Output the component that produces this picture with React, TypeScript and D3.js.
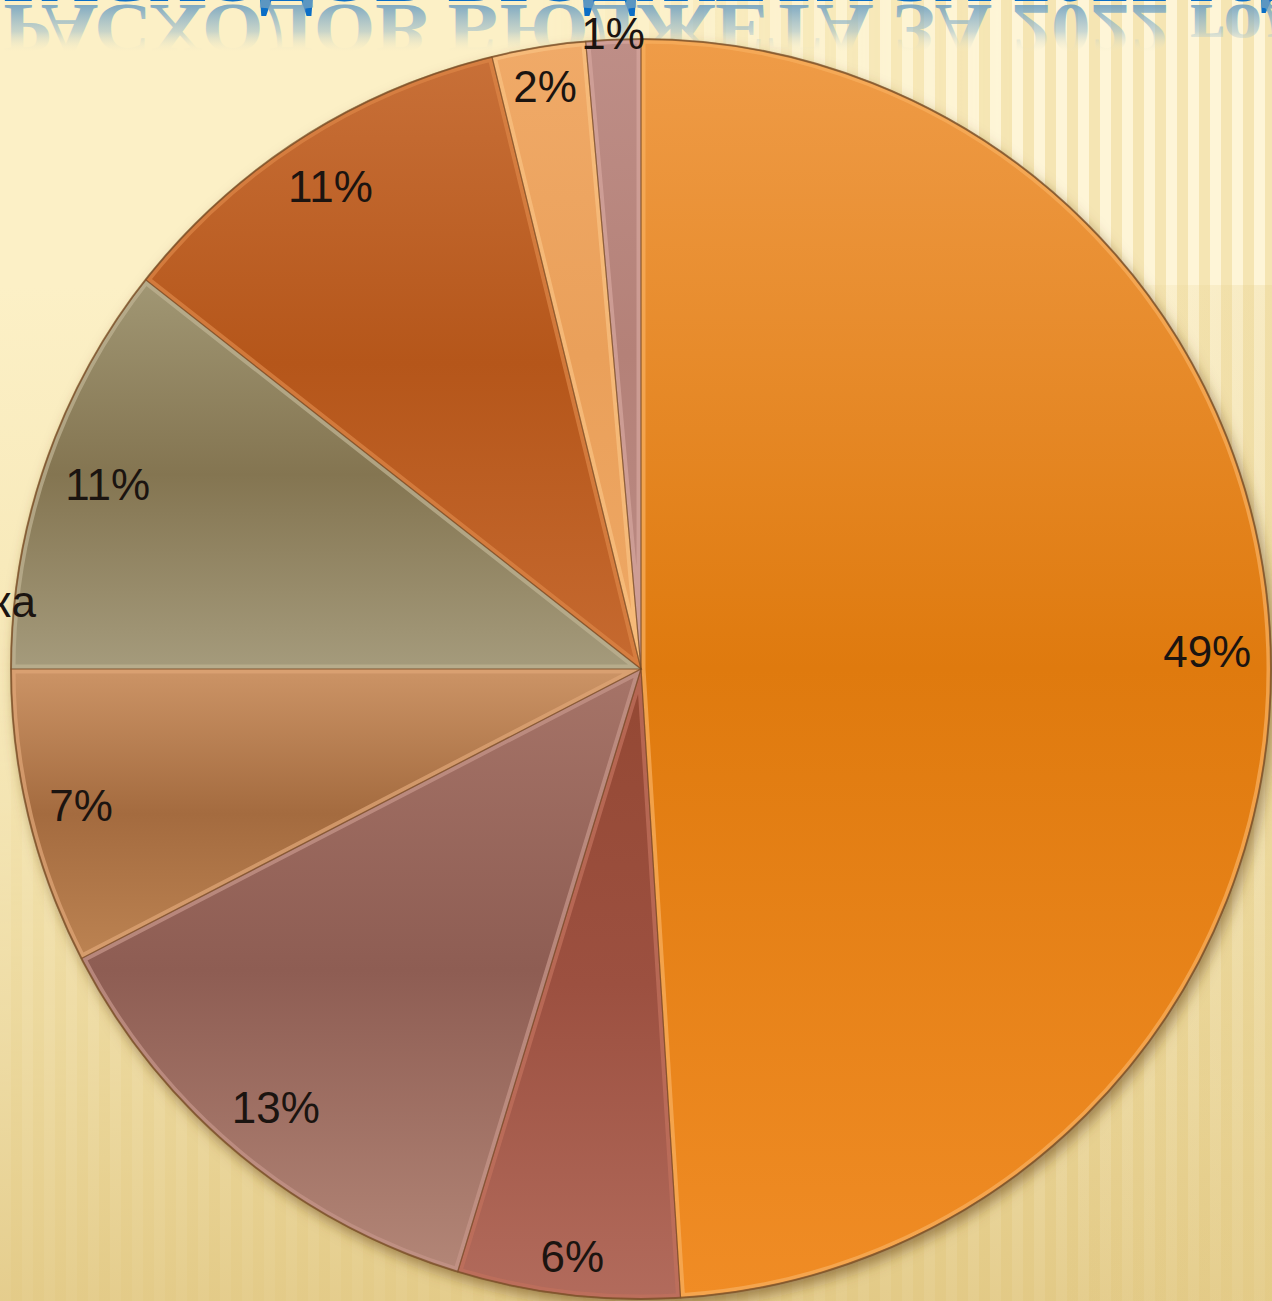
import * as d3 from 'd3';

const W = 1272;
const H = 1301;
const cx = 641;
const cy = 669;
const R = 630;

// slices clockwise from 12 o'clock
const categories = [
  'Социальная политика',
  'Национальная безопасность',
  'Образование',
  'Культура',
  'Национальная экономика',
  'Жилищно-коммунальное хозяйство',
  'Общегосударственные вопросы',
  'Физическая культура и спорт',
];
const shares = [49.0, 5.7, 12.7, 7.6, 10.6, 10.6, 2.4, 1.4];
const shareLabels = ['49%', '6%', '13%', '7%', '11%', '11%', '2%', '1%'];

const topColors = ['#EF9C48', '#944833', '#A67468', '#CC9466', '#A19774', '#C87038', '#F0AA68', '#BE8E87'];
const midColors = ['#DF7A0E', '#9C5040', '#8E5D53', '#A46B3F', '#847551', '#B5561A', '#EAA05A', '#B48178'];
const botColors = ['#F08C25', '#B26B5C', '#B38677', '#BC8352', '#A59B7C', '#C66A30', '#EEA865', '#BC8C85'];
const edgeColors = ['#F7AE5C', '#C0705C', '#C49488', '#DDA476', '#BDB291', '#DB8446', '#F8C080', '#D4A49C'];

const titleText = 'РАСХОДОВ БЮДЖЕТА ЗА 2022 год';
const cutLabel = categories[4];

const labelFont = 44;
const charW = (s: string) =>
  s.split('').reduce((a, c) => a + (c === '%' ? 0.889 : 0.556), 0) * labelFont;

export default function App() {
  const pie = d3.pie<number>().sort(null).value((d) => d);
  const arcs = pie(shares);
  const arc = d3.arc<d3.PieArcDatum<number>>().innerRadius(0).outerRadius(R);

  const labelPos = (d: d3.PieArcDatum<number>, i: number) => {
    const a = (d.startAngle + d.endAngle) / 2;
    const hw = charW(shareLabels[i]) / 2;
    const hh = labelFont * 0.36;
    const rr =
      d.data < 2
        ? R + 6
        : R - 19 - (hw * Math.abs(Math.sin(a)) + hh * Math.abs(Math.cos(a)));
    return [cx + rr * Math.sin(a), cy - rr * Math.cos(a)];
  };

  return (
    <svg
      width={W}
      height={H}
      style={{ position: 'absolute', left: 0, top: 0, display: 'block' }}>
      <defs>
        <pattern id='stripes' width={22} height={40} patternUnits='userSpaceOnUse'>
          <rect x={0} y={0} width={11} height={40} fill='#FFF9E2' opacity={0.6} />
          <rect x={11} y={0} width={11} height={40} fill='#E6D08E' opacity={0.35} />
        </pattern>
        <linearGradient id='hfade' x1={0} x2={W} y1={0} y2={0} gradientUnits='userSpaceOnUse'>
          <stop offset={0.42} stopColor='#fff' stopOpacity={0} />
          <stop offset={0.8} stopColor='#fff' stopOpacity={1} />
        </linearGradient>
        <linearGradient id='vfade' x1={0} x2={0} y1={600} y2={H} gradientUnits='userSpaceOnUse'>
          <stop offset={0} stopColor='#fff' stopOpacity={0} />
          <stop offset={1} stopColor='#fff' stopOpacity={0.9} />
        </linearGradient>
        <mask id='maskH'>
          <rect width={W} height={H} fill='url(#hfade)' />
        </mask>
        <mask id='maskV'>
          <rect width={W} height={H} fill='url(#vfade)' />
        </mask>
        <linearGradient id='floor' x1={0} x2={0} y1={285} y2={H} gradientUnits='userSpaceOnUse'>
          <stop offset={0} stopColor='#E9D493' stopOpacity={0} />
          <stop offset={0.45} stopColor='#E9D493' stopOpacity={0.35} />
          <stop offset={1} stopColor='#E0C680' stopOpacity={0.85} />
        </linearGradient>
        <linearGradient id='step' x1={1050} x2={W} y1={0} y2={0} gradientUnits='userSpaceOnUse'>
          <stop offset={0} stopColor='#E6CF8C' stopOpacity={0} />
          <stop offset={1} stopColor='#E6CF8C' stopOpacity={0.28} />
        </linearGradient>
        <linearGradient id='refl' x1={0} x2={0} y1={0} y2={-48} gradientUnits='userSpaceOnUse'>
          <stop offset={0} stopColor='#6A9DC0' stopOpacity={0.85} />
          <stop offset={0.55} stopColor='#93B8CC' stopOpacity={0.5} />
          <stop offset={1} stopColor='#FCF0C6' stopOpacity={0} />
        </linearGradient>
        <filter id='shadow' x='-10%' y='-10%' width='120%' height='120%'>
          <feDropShadow dx={4} dy={7} stdDeviation={7} floodColor='#6B4A1A' floodOpacity={0.6} />
        </filter>
        {arcs.map((d, i) => (
          <linearGradient key={i} id={`g${i}`} x1={0} x2={0} y1={0} y2={1}>
            <stop offset={0} stopColor={topColors[i]} />
            <stop offset={0.5} stopColor={midColors[i]} />
            <stop offset={1} stopColor={botColors[i]} />
          </linearGradient>
        ))}
        {arcs.map((d, i) => (
          <clipPath key={i} id={`c${i}`}>
            <path d={arc(d) ?? ''} transform={`translate(${cx},${cy})`} />
          </clipPath>
        ))}
      </defs>

      {/* background */}
      <rect width={W} height={H} fill='#FCF0C6' />
      <rect width={W} height={H} fill='url(#stripes)' mask='url(#maskH)' />
      <rect width={W} height={H} fill='url(#stripes)' mask='url(#maskV)' />
      <rect y={285} width={W} height={H - 285} fill='url(#floor)' />
      <rect y={285} width={W} height={H - 285} fill='url(#step)' />

      {/* title and its reflection */}
      <text
        x={3}
        y={1}
        fontFamily='"Liberation Serif", "Times New Roman", serif'
        fontWeight='bold'
        fontSize={70}
        textLength={1297}
        lengthAdjust='spacingAndGlyphs'
        fill='#0B6EC6'>
        {titleText}
      </text>
      <g transform='translate(0,5) scale(1,-1)'>
        <text
          x={3}
          y={0}
          fontFamily='"Liberation Serif", "Times New Roman", serif'
          fontWeight='bold'
          fontSize={70}
          textLength={1297}
          lengthAdjust='spacingAndGlyphs'
          fill='url(#refl)'>
          {titleText}
        </text>
      </g>

      {/* pie */}
      <circle cx={cx} cy={cy} r={R} fill='#C88A3A' filter='url(#shadow)' />
      <g transform={`translate(${cx},${cy})`}>
        {arcs.map((d, i) => (
          <path key={`f${i}`} d={arc(d) ?? ''} fill={`url(#g${i})`} />
        ))}
      </g>
      {arcs.map((d, i) => (
        <g key={`b${i}`} clipPath={`url(#c${i})`}>
          <path
            d={arc(d) ?? ''}
            transform={`translate(${cx},${cy})`}
            fill='none'
            stroke={edgeColors[i]}
            strokeWidth={9}
            strokeLinejoin='round'
            opacity={0.75}
          />
        </g>
      ))}
      <g transform={`translate(${cx},${cy})`}>
        {arcs.map((d, i) => (
          <path
            key={`o${i}`}
            d={arc(d) ?? ''}
            fill='none'
            stroke='#6E4220'
            strokeOpacity={0.45}
            strokeWidth={1.2}
          />
        ))}
        <circle r={R} fill='none' stroke='#7A5028' strokeOpacity={0.7} strokeWidth={2} />
      </g>

      {/* labels */}
      {arcs.map((d, i) => {
        const [x, y] = labelPos(d, i);
        return (
          <text
            key={`l${i}`}
            x={x}
            y={y}
            dy='0.36em'
            textAnchor='middle'
            fontFamily='"Liberation Sans", Arial, sans-serif'
            fontSize={labelFont}
            fill='#1B1410'>
            {shareLabels[i]}
          </text>
        );
      })}
      <text
        x={cx - R + 25}
        y={cy - 68}
        dy='0.36em'
        textAnchor='end'
        fontFamily='"Liberation Sans", Arial, sans-serif'
        fontSize={labelFont}
        fill='#1B1410'>
        {cutLabel}
      </text>
    </svg>
  );
}
